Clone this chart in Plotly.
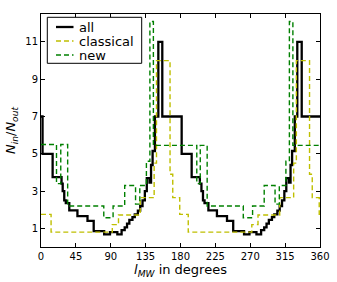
import plotly.graph_objects as go

# ---- data (step edges in degrees, value holds until next edge) ----
all_x = [0, 2, 15, 26.5, 28, 30, 32, 36.5, 47, 60, 68, 81.5, 89, 98.5, 104, 108, 111, 114, 118, 121,
         125, 128, 131, 134, 136.5, 140, 142, 144, 147, 151.4, 156.5,
         181.5, 194.4, 205, 207, 209, 211, 216, 227, 240, 248, 262, 269, 278, 284, 288, 291, 294, 298, 301,
         305, 308, 311, 314, 316.5, 320, 322, 324, 327.5, 330.7, 336.4, 360]
all_y = [7, 5, 3.75, 3.4, 3.0, 2.5, 2.35, 1.97, 1.66, 1.4, 0.85, 0.68, 0.8, 0.68, 0.9, 1.05, 1.25, 1.45, 1.6, 1.75,
         1.95, 2.2, 2.5, 3.0, 3.7, 3.45, 4.4, 5.15, 7, 11, 7,
         5, 3.75, 3.4, 3.0, 2.5, 2.35, 1.97, 1.66, 1.4, 0.85, 0.68, 0.8, 0.68, 0.9, 1.05, 1.25, 1.45, 1.6, 1.75,
         1.95, 2.2, 2.5, 3.0, 3.7, 3.45, 4.4, 5.15, 7, 11, 7, 7]

classical_x = [0, 13, 92, 100, 128, 146, 149, 166.5, 170, 179, 190,
               272, 280, 308, 326, 329.5, 346.5, 350, 359, 360]
classical_y = [1.75, 0.8, 1.2, 1.72, 2.65, 4.5, 10, 3.9, 2.65, 1.75, 0.8,
               1.2, 1.72, 2.65, 4.5, 10, 3.9, 2.65, 1.75, 1.75]

new_x = [0, 20, 25.5, 34.4, 81, 93, 108, 122, 127.5, 136, 140.5, 145,
         201, 205.5, 214.4, 261, 273, 288, 302, 307.5, 316, 320.5, 325, 360]
new_y = [5.5, 3.4, 5.5, 2.2, 1.57, 2.2, 3.3, 2.3, 3.3, 4.6, 12.1, 5.45,
         3.4, 5.45, 2.2, 1.57, 2.2, 3.3, 2.3, 3.3, 4.6, 12.1, 5.45, 5.45]

x_ticks = [0, 45, 90, 135, 180, 225, 270, 315, 360]
y_ticks = [1, 3, 5, 7, 9, 11]

series_names = ["all", "classical", "new"]
BLACK = "#000000"
YELLOW = "#bfbf00"
GREEN = "#008000"
styles = [dict(color=BLACK, width=2.3), dict(color=YELLOW, width=1.4, dash="5px,3px"),
          dict(color=GREEN, width=1.4, dash="5px,3px")]

fig = go.Figure()
for name, xs, ys, st in zip(series_names, [all_x, classical_x, new_x], [all_y, classical_y, new_y], styles):
    fig.add_trace(go.Scatter(x=xs, y=ys, mode="lines", name=name, showlegend=False,
                             line=dict(shape="hv", **st)))

axis_common = dict(showgrid=False, zeroline=False, showline=True, linecolor="black", linewidth=1,
                   mirror="allticks", ticks="inside", ticklen=4, tickwidth=1, tickcolor="black",
                   automargin=False,
                   tickfont=dict(family="DejaVu Sans", size=10, color="black"))

fig.update_xaxes(range=[0, 360], tickvals=x_ticks, ticktext=[str(v) for v in x_ticks],
                 title=dict(text="<i>l</i><sub><i>MW</i></sub> in degrees", standoff=3,
                            font=dict(family="DejaVu Sans", size=13, color="black")),
                 **axis_common)
fig.update_yaxes(range=[0, 12.5], tickvals=y_ticks, ticktext=[str(v) for v in y_ticks],
                 title=dict(text="<i>N</i><sub><i>in</i></sub>/<i>N</i><sub><i>out</i></sub>", standoff=6,
                            font=dict(family="DejaVu Sans", size=13, color="black")),
                 **axis_common)

# legend box drawn in paper coordinates (matplotlib-style compact legend)
L, R, T, B = 41, 320, 14, 247
W, H = R - L, B - T
def px(x):
    return (x - L) / W
def py(y):
    return (B - y) / H

shapes = [dict(type="rect", xref="paper", yref="paper", x0=px(47.3), x1=px(141.7), y0=py(63.3), y1=py(17.3),
               line=dict(color="black", width=1), fillcolor="white", layer="above")]
annotations = []
row_y = [27, 41, 55]
for name, st, ry in zip(series_names, styles, row_y):
    shapes.append(dict(type="line", xref="paper", yref="paper", x0=px(56), x1=px(73.5), y0=py(ry), y1=py(ry),
                       line=dict(color=st["color"], width=st["width"], dash=st.get("dash", "solid")),
                       layer="above"))
    annotations.append(dict(text=name, xref="paper", yref="paper", x=px(77), y=py(ry), xanchor="left",
                            yanchor="middle", showarrow=False,
                            font=dict(family="DejaVu Sans", size=13, color="black")))

fig.update_layout(
    width=337, height=282,
    margin=dict(l=L, r=337 - R, t=T, b=282 - B, pad=0),
    paper_bgcolor="white", plot_bgcolor="white",
    font=dict(family="DejaVu Sans", color="black"),
    showlegend=False,
    shapes=shapes, annotations=annotations,
)

fig.write_html("out.html", config={"displayModeBar": False},
               post_script="document.body.style.margin='0px';document.body.style.overflow='hidden';")
